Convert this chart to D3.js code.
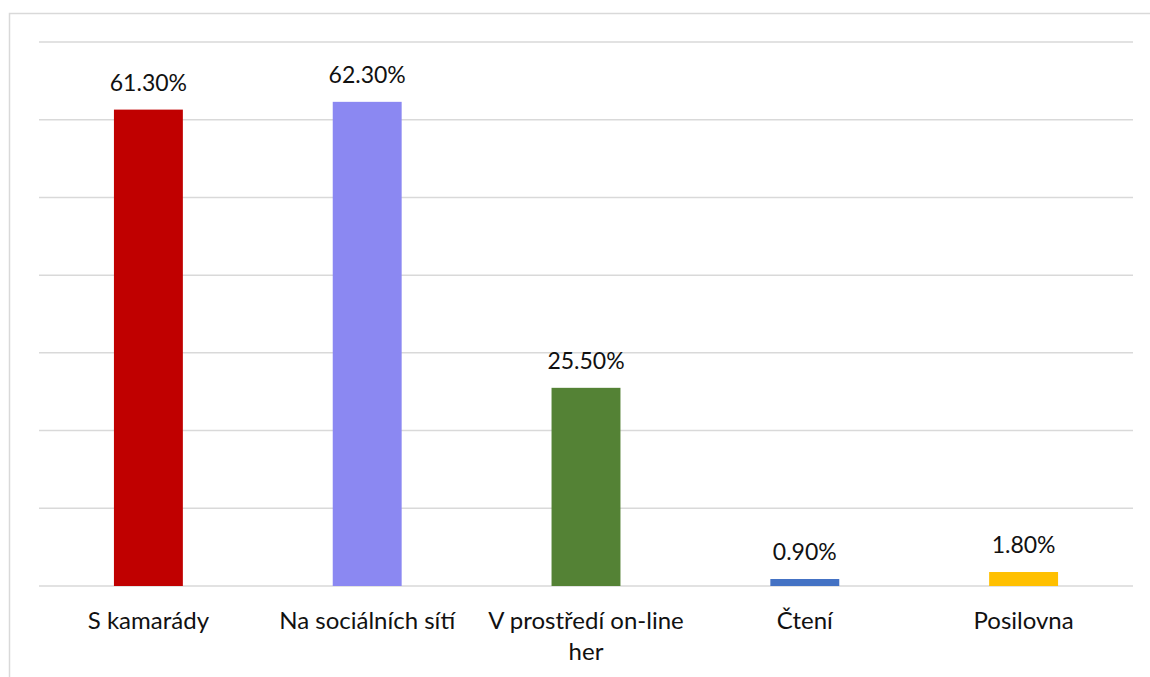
<!DOCTYPE html>
<html><head><meta charset="utf-8">
<script src="https://cdn.jsdelivr.net/npm/d3@7"></script>
<style>body{margin:0;background:#fff;font-family:Lato,"Open Sans",sans-serif}</style>
</head><body>
<svg id="c" width="1150" height="677"></svg>
<script>
const categories = ["S kamarády", "Na sociálních sítí", "V prostředí on-line her", "Čtení", "Posilovna"];
const values = [61.3, 62.3, 25.5, 0.9, 1.8];
const valueLabels = ["61.30%", "62.30%", "25.50%", "0.90%", "1.80%"];
const colors = ["#C00000", "#8B88F2", "#548235", "#4472C4", "#FFC000"];
const yTicks = [0, 10, 20, 30, 40, 50, 60, 70];

const svg = d3.select("#c");
svg.append("rect").attr("x", 9.5).attr("y", 13.5).attr("width", 1150).attr("height", 700)
  .attr("fill", "#fff").attr("stroke", "#D9D9D9").attr("stroke-width", 1.5);

const x = d3.scaleBand().domain(categories).range([39, 1133]).paddingInner(0.685).paddingOuter(0.3425);
const y = d3.scaleLinear().domain([0, 70]).range([586, 42]);

svg.append("g").selectAll("line").data(yTicks).join("line")
  .attr("x1", 39).attr("x2", 1133).attr("y1", d => y(d)).attr("y2", d => y(d))
  .attr("stroke", "#D9D9D9").attr("stroke-width", 1.5);

svg.append("g").selectAll("rect").data(values).join("rect")
  .attr("x", (d, i) => x(categories[i])).attr("width", x.bandwidth())
  .attr("y", d => y(d)).attr("height", d => y(0) - y(d))
  .attr("fill", (d, i) => colors[i]);

svg.append("g").selectAll("text").data(values).join("text")
  .attr("x", (d, i) => x(categories[i]) + x.bandwidth() / 2)
  .attr("y", d => y(d) - 19)
  .attr("text-anchor", "middle").attr("font-size", 23).attr("fill", "#111")
  .text((d, i) => valueLabels[i]);

const lines = {"V prostředí on-line her": ["V prostředí on-line", "her"]};
const lab = svg.append("g").selectAll("text").data(categories).join("text")
  .attr("x", d => x(d) + x.bandwidth() / 2).attr("y", 629)
  .attr("text-anchor", "middle").attr("font-size", 24).attr("fill", "#111");
lab.each(function(d) {
  const parts = lines[d] || [d];
  const t = d3.select(this);
  parts.forEach((p, k) => t.append("tspan").attr("x", x(d) + x.bandwidth() / 2).attr("dy", k ? 31 : 0).text(p));
});
</script>
</body></html>
